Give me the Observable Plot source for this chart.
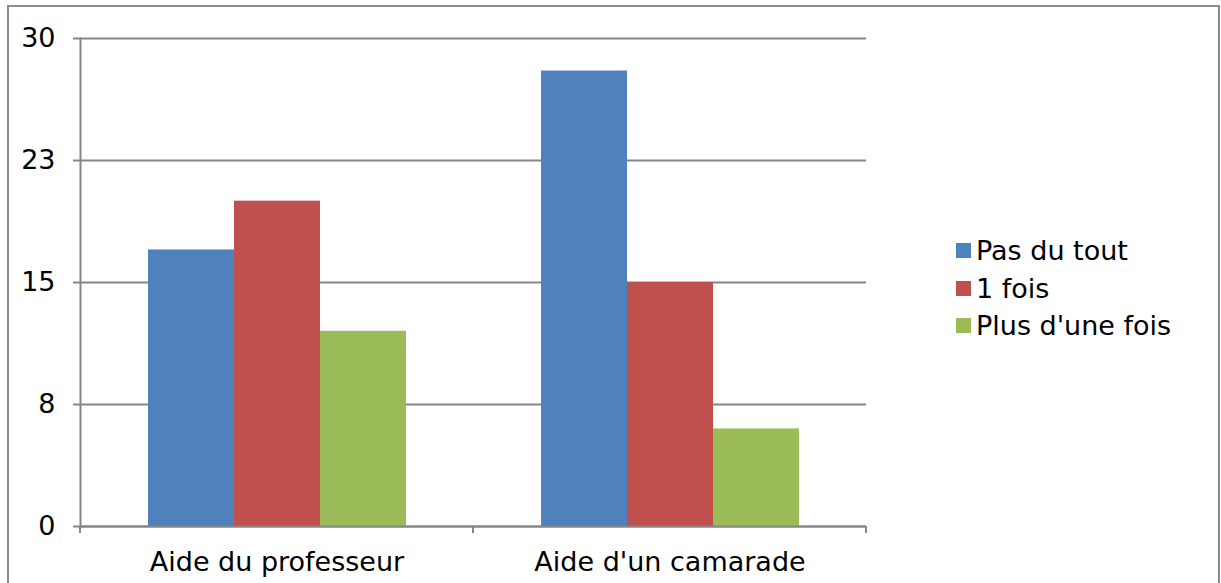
<!DOCTYPE html>
<html><head><meta charset="utf-8">
<script src="https://cdn.jsdelivr.net/npm/d3@7"></script>
<script src="https://cdn.jsdelivr.net/npm/@observablehq/plot@0.6"></script>
<style>
html,body{margin:0;padding:0;background:#fff;}
#wrap{position:relative;width:1221px;height:583px;overflow:hidden;font-family:"DejaVu Sans",Verdana,sans-serif;}
#border{position:absolute;left:7px;top:5px;width:1213px;height:600px;border:2px solid #8c8c8c;box-sizing:border-box;}
#chart{position:absolute;left:0;top:0;}
#legend{position:absolute;left:956px;top:232px;font-size:27px;color:#000;}
.item{display:flex;align-items:center;height:37.5px;white-space:nowrap;}
.sw{width:15px;height:15px;margin-right:5px;flex:none;}
</style></head><body>
<div id="wrap"><div id="border"></div><div id="chart"></div><div id="legend"></div></div>
<script>
const groups = ["Aide du professeur", "Aide d'un camarade"];
const series = ["Pas du tout", "1 fois", "Plus d'une fois"];
const valuesPasDuTout = [17, 28];
const valuesUneFois = [20, 15];
const valuesPlusDuneFois = [12, 6];
const colors = ["#4F81BD", "#C0504D", "#9BBB59"];
const yTicks = [0, 7.5, 15, 22.5, 30];
const yTickLabels = ["0", "8", "15", "23", "30"];

const seriesValues = [valuesPasDuTout, valuesUneFois, valuesPlusDuneFois];
const data = [];
groups.forEach((g, gi) => series.forEach((s, si) => data.push({group: g, series: s, value: seriesValues[si][gi]})));

const grid = "#868686";
const font = "DejaVu Sans, Verdana, sans-serif";

const plot = Plot.plot({
  width: 1221, height: 583,
  marginLeft: 80, marginRight: 355, marginTop: 38, marginBottom: 57,
  style: {fontFamily: font, color: "#000", background: "transparent", overflow: "visible"},
  fx: {domain: groups, padding: 0},
  x: {domain: series, paddingInner: 0, paddingOuter: 0.76, axis: null},
  y: {domain: [0, 30]},
  color: {domain: series, range: colors},
  marks: [
    Plot.gridY(yTicks, {stroke: grid, strokeOpacity: 1, strokeWidth: 2}),
    Plot.barY(data, {fx: "group", x: "series", y: "value", fill: "series"}),
    Plot.ruleY([0], {stroke: grid, strokeWidth: 2}),
    Plot.frame({anchor: "left", facetAnchor: "left", stroke: grid, strokeWidth: 2}),
    Plot.axisY(yTicks, {tickSize: 7, tickPadding: 18, stroke: grid, strokeWidth: 2, fontSize: 27,
      tickFormat: (d) => yTickLabels[yTicks.indexOf(d)], label: null}),
    Plot.axisFx({anchor: "bottom", tickSize: 0, tickPadding: 25, fontSize: 27, label: null})
  ]
});

// boundary ticks between categories on x axis
const fx = plot.scale("fx");
const yScale = plot.scale("y");
const bounds = groups.map(g => fx.apply(g));
bounds.push(fx.apply(groups[groups.length - 1]) + fx.bandwidth);
const y0 = yScale.apply(0);
d3.select(plot).append("g").selectAll("line").data(bounds).join("line")
  .attr("x1", d => d).attr("x2", d => d)
  .attr("y1", y0).attr("y2", y0 + 7)
  .attr("stroke", grid).attr("stroke-width", 2);

document.getElementById("chart").appendChild(plot);

const legend = d3.select("#legend");
series.forEach((s, i) => {
  const item = legend.append("div").attr("class", "item");
  item.append("div").attr("class", "sw").style("background", colors[i]);
  item.append("span").text(s);
});
</script>
</body></html>
